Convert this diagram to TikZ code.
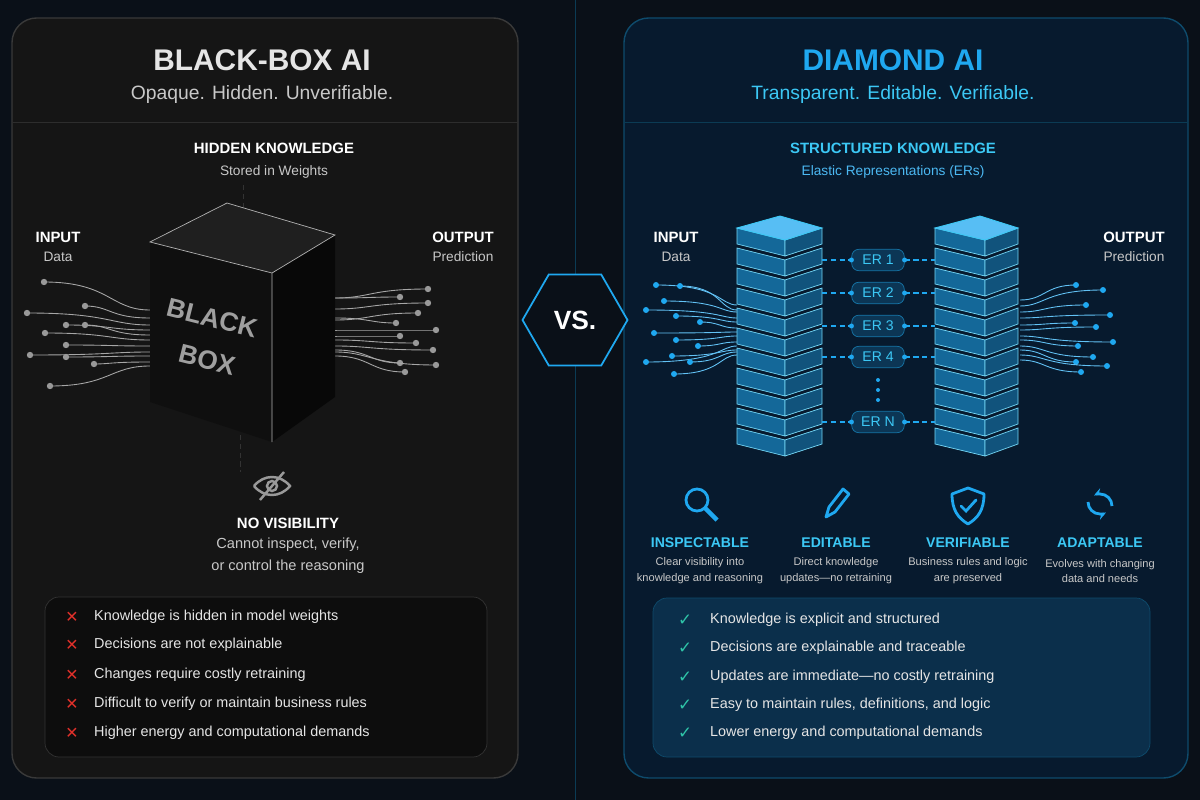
\documentclass[tikz,border=0pt]{standalone}
\usepackage{fontspec}
\setmainfont{Liberation Sans}
\newfontfamily\symfont{DejaVu Sans}
\usetikzlibrary{positioning,shapes.geometric,arrows.meta}
\definecolor{bgc}{HTML}{0A1018}
\definecolor{leftc}{HTML}{151515}
\definecolor{rightc}{HTML}{071A2E}
\definecolor{cyanc}{HTML}{1FA8F0}
\definecolor{cyanl}{HTML}{3CC8F5}
\definecolor{greyt}{HTML}{C8C8C8}
\definecolor{redx}{HTML}{E0302A}
\definecolor{greenc}{HTML}{2FC4A8}
\tikzset{
  head/.style={font=\bfseries\fontsize{17}{20}\selectfont},
  sub/.style={font=\fontsize{11}{13}\selectfont},
  lab/.style={font=\bfseries\fontsize{8.5}{10}\selectfont,text=white},
  small/.style={font=\fontsize{7.8}{9}\selectfont,text=greyt,align=center},
  item/.style={font=\fontsize{8.2}{10}\selectfont,text=white!90!black,anchor=west},
  er/.style={draw=cyanc!70!black,fill=rightc!80!cyanc,rounded corners=4pt,minimum width=1.05cm,minimum height=0.42cm,text=cyanl,font=\fontsize{8}{10}\selectfont},
  icon/.style={draw=cyanc,line width=1.6pt},
  boxtext/.style={rotate=-14,inner sep=0pt,font=\bfseries\fontsize{15}{16}\selectfont,text=gray!75}
}
\begin{document}
\begin{tikzpicture}[x=0.02cm,y=-0.02cm]
\fill[bgc] (0,0) rectangle (1200,800);
\useasboundingbox (0,0) rectangle (1200,800);
% panels
\draw[gray!45!black,fill=leftc,rounded corners=14pt,line width=0.8pt] (12,18) rectangle (518,778);
\draw[gray!35!black] (12,122) -- (518,122);
\draw[cyanc!45!black,fill=rightc,rounded corners=14pt,line width=0.8pt] (624,18) rectangle (1188,778);
\draw[cyanc!35!black] (624,122) -- (1188,122);
\draw[cyanc!35!black] (575,0) -- (575,800);
\node[regular polygon,regular polygon sides=6,draw=cyanc,fill=bgc,line width=1pt,minimum size=2.1cm,font=\bfseries\fontsize{15}{17}\selectfont,text=white] (vs) at (575,320) {VS.};
% left header
\node[head,text=white!90!black] (bbtitle) at (262,60) {BLACK-BOX AI};
\node[sub,text=greyt] (bbsub) at (262,95) {Opaque. Hidden. Unverifiable.};
\node[lab] (hidden) at (274,148) {HIDDEN KNOWLEDGE};
\node[small] (stored) at (274,172) {Stored in Weights};
\node[lab] (inl) at (58,237) {INPUT};
\node[small] (inl2) at (58,257) {Data};
\node[lab] (outl) at (463,237) {OUTPUT};
\node[small] (outl2) at (463,257) {Prediction};
% fan lines
\foreach \sx/\sy/\ey in {44/282/310,85/306/318,27/313/325,66/325/330,85/325/335,45/333/340,66/345/346,30/355/352,66/357/356,94/364/362,50/386/366}{
  \draw[gray!70,line width=0.5pt] (\sx,\sy) .. controls (110,\sy) and (110,\ey) .. (150,\ey);
  \fill[gray!80] (\sx,\sy) circle (3.2);}
\foreach \sx/\sy/\ey in {400/297/298,428/289/298,428/303/309,396/323/318,418/313/320,436/330/330,400/336/336,416/343/340,433/350/346,400/363/350,436/365/352,405/372/356}{
  \draw[gray!70,line width=0.5pt] (335,\ey) .. controls (370,\ey) and (370,\sy) .. (\sx,\sy);
  \fill[gray!80] (\sx,\sy) circle (3.2);}
% cube
\draw[gray!40!black,densely dashed] (243,185) -- (243,230);
\fill[black!88] (150,242) -- (227,203) -- (335,235) -- (272,273) -- cycle;
\fill[black!94] (150,242) -- (272,273) -- (272,442) -- (150,402) -- cycle;
\fill[black!97] (272,273) -- (335,235) -- (335,397) -- (272,442) -- cycle;
\draw[gray!60,line width=0.4pt] (150,242) -- (227,203) -- (335,235) -- (272,273) -- cycle (272,273) -- (272,442);
\node[boxtext] (black) at (212,318) {BLACK};
\node[boxtext] (box) at (207,360) {BOX};
\draw[gray!40!black,densely dashed] (240,435) -- (240,472);
% eye icon
\draw[gray!80,line width=1.4pt] (254,486) .. controls (264,474) and (280,474) .. (290,486) .. controls (280,498) and (264,498) .. (254,486);
\draw[gray!80,line width=1.4pt] (272,486) circle (5);
\draw[gray!80,line width=1.4pt] (260,500) -- (284,472);
\node[lab] (novis) at (288,523) {NO VISIBILITY};
\node[small,font=\fontsize{8.3}{12.5}\selectfont,text=greyt] (novis2) at (288,556) {Cannot inspect, verify,\\or control the reasoning};
% left list
\draw[gray!40!black,fill=black!95,rounded corners=8pt] (45,597) rectangle (487,757);
\foreach \y/\t in {617/Knowledge is hidden in model weights,645/Decisions are not explainable,675/Changes require costly retraining,704/Difficult to verify or maintain business rules,733/Higher energy and computational demands}{
  \node[text=redx,font=\symfont\bfseries\fontsize{9}{10}\selectfont] at (72,\y) {✕};
  \node[item] at (88,\y) {\t};}
% right header
\node[head,text=cyanc] (dtitle) at (893,60) {DIAMOND AI};
\node[sub,text=cyanl] (dsub) at (893,95) {Transparent. Editable. Verifiable.};
\node[lab,text=cyanl] (struct) at (893,148) {STRUCTURED KNOWLEDGE};
\node[small,text=cyanc!80!white] (ers) at (893,172) {Elastic Representations (ERs)};
\node[lab] (inr) at (676,237) {INPUT};
\node[small] (inr2) at (676,257) {Data};
\node[lab] (outr) at (1134,237) {OUTPUT};
\node[small] (outr2) at (1134,257) {Prediction};
\foreach \sx/\sy/\ey in {656/285/305,680/286/310,664/301/312,646/310/318,676/316/322,700/322/328,654/333/332,676/340/336,698/346/342,646/362/346,672/356/350,690/362/352,674/374/355}{
  \draw[cyanc!70,line width=0.5pt] (\sx,\sy) .. controls (720,\sy) and (720,\ey) .. (737,\ey);
  \fill[cyanc] (\sx,\sy) circle (3);}
\foreach \sx/\sy/\ey in {1076/285/300,1103/290/306,1086/305/312,1110/315/318,1075/323/325,1096/327/330,1113/342/336,1078/346/340,1093/357/346,1076/362/350,1107/366/355,1081/372/360}{
  \draw[cyanc!70,line width=0.5pt] (1020,\ey) .. controls (1045,\ey) and (1045,\sy) .. (\sx,\sy);
  \fill[cyanc] (\sx,\sy) circle (3);}
% stacks
\foreach \lx/\fx/\rx in {737/785/822,935/985/1018}{
  \foreach \k in {0,...,10}{
    \pgfmathsetmacro\yy{228+\k*20}
    \fill[cyanc!55!rightc,draw=cyanl!70,line width=0.4pt] (\lx,\yy) -- (\fx,\yy+12) -- (\fx,\yy+28) -- (\lx,\yy+16) -- cycle;
    \fill[cyanc!40!rightc,draw=cyanl!70,line width=0.4pt] (\fx,\yy+12) -- (\rx,\yy) -- (\rx,\yy+16) -- (\fx,\yy+28) -- cycle;}
  \fill[cyanc!75!white,draw=cyanl,line width=0.5pt] (\lx,228) -- (\fx-5,216) -- (\rx,228) -- (\fx,240) -- cycle;}
\foreach \y/\t/\n in {260/ER 1/er1,293/ER 2/er2,326/ER 3/er3,357/ER 4/er4,422/ER N/ern}{
  \node[er] (\n) at (878,\y) {\t};
  \draw[cyanc,densely dashed,line width=0.8pt] (822,\y) -- (\n.west);
  \draw[cyanc,densely dashed,line width=0.8pt] (\n.east) -- (935,\y);
  \fill[cyanc] (\n.west) circle (2.5) (\n.east) circle (2.5);}
\foreach \y in {380,390,400} \fill[cyanc] (878,\y) circle (2);
% icons
\draw[icon] (697,500) circle (11); \draw[icon,line width=2.5pt] (705,508) -- (717,520);
\draw[icon,line join=round] (826,517) -- (829,507) -- (843,489) -- (849,494) -- (835,512) -- cycle;
\draw[icon,line join=round] (968,488) -- (984,494) .. controls (984,510) and (978,518) .. (968,524) .. controls (958,518) and (952,510) .. (952,494) -- cycle;
\draw[icon,line cap=round] (961,506) -- (966,511) -- (976,500);
\draw[icon,-{Stealth[length=5pt]}] (1088,502) arc (180:60:12);
\draw[icon,-{Stealth[length=5pt]}] (1112,506) arc (0:-120:12);
\foreach \x/\a/\b/\c/\n in {700/INSPECTABLE/Clear visibility into/knowledge and reasoning/insp,836/EDITABLE/Direct knowledge/updates---no retraining/edit,968/VERIFIABLE/Business rules and logic/are preserved/verif,1100/ADAPTABLE/Evolves with changing/data and needs/adapt}{
  \node[lab,text=cyanl,font=\bfseries\fontsize{8}{10}\selectfont] (\n) at (\x,543) {\a};
  \node[small,font=\fontsize{6.3}{9}\selectfont,text=greyt] at (\x,571) {\b\\\c};}
% right list
\draw[cyanc!45!black,fill=rightc!85!cyanc,rounded corners=8pt] (653,598) rectangle (1150,757);
\foreach \y/\t in {620/Knowledge is explicit and structured,648/Decisions are explainable and traceable,677/Updates are immediate---no costly retraining,705/{Easy to maintain rules, definitions, and logic},733/Lower energy and computational demands}{
  \node[text=greenc,font=\symfont\fontsize{9.5}{10}\selectfont] at (685,\y) {✓};
  \node[item] at (704,\y) {\t};}
\end{tikzpicture}
\end{document}
